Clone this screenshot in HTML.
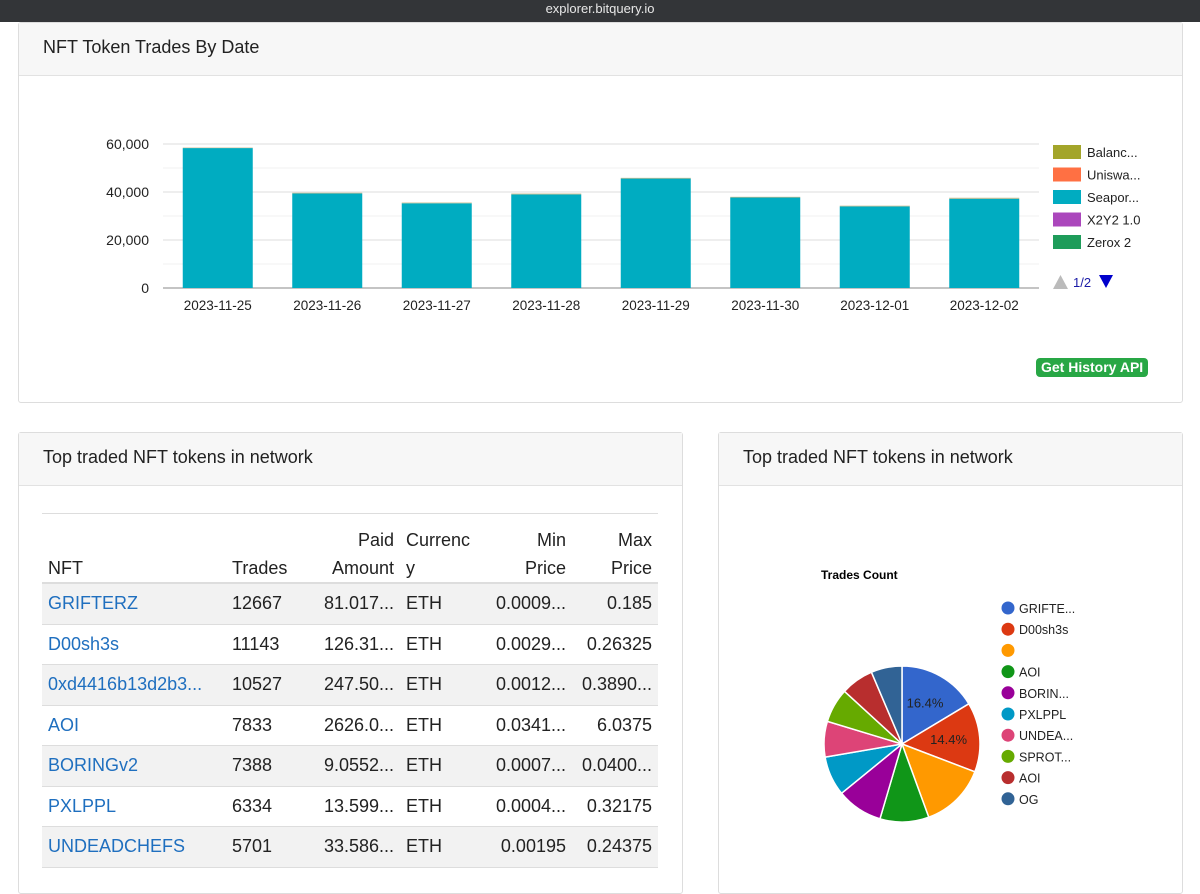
<!DOCTYPE html>
<html><head><meta charset="utf-8">
<style>
body{margin:0;width:1200px;height:877px;background:#fff;font-family:"Liberation Sans",sans-serif;position:relative;overflow:hidden}
.top{position:absolute;left:0;top:0;width:1200px;height:22px;background:#333538;color:#e8e8e8;font-size:13px;text-align:center;line-height:18px}
.card{position:absolute;border:1px solid #ddd;border-radius:3px;background:#fff}
.card .hd{height:52px;background:#f7f7f7;border-bottom:1px solid #e2e2e2;font-size:18px;color:#222;line-height:48px;padding-left:24px}
table{position:absolute;left:23px;top:80px;width:616px;border-collapse:collapse;font-size:18px;color:#222;table-layout:fixed}
th{font-weight:normal;padding:0 6px;vertical-align:bottom;line-height:28px;height:68px;border-top:1px solid #ddd;border-bottom:2px solid #ddd}
td{height:39.5px;padding:0 6px;border-bottom:1px solid #ddd;white-space:nowrap;overflow:hidden}
tr.s td{background:#f2f2f2}
td.r,th.r{text-align:right}
a{color:#1f6fbf;text-decoration:none}
</style></head><body>
<div class="top">explorer.bitquery.io</div>

<div class="card" style="left:18px;top:22px;width:1163px;height:379px">
<div class="hd">NFT Token Trades By Date</div>
<svg id="bar" width="1163" height="326" style="position:absolute;left:0;top:53px"></svg>
<div style="position:absolute;left:1017px;top:335px;background:#28a745;color:#fff;font-size:14px;font-weight:bold;border-radius:4px;padding:1px 5px;line-height:17px">Get History API</div>
</div>

<div class="card" style="left:18px;top:432px;width:663px;height:460px">
<div class="hd">Top traded NFT tokens in network</div>
<table>
<colgroup><col style="width:184px"><col style="width:90px"><col style="width:84px"><col style="width:82px"><col style="width:90px"><col style="width:86px"></colgroup>
<tr><th style="text-align:left">NFT</th><th style="text-align:left">Trades</th><th class="r">Paid<br>Amount</th><th style="text-align:left">Currenc<br>y</th><th class="r">Min<br>Price</th><th class="r">Max<br>Price</th></tr>
<tr class="s"><td><a>GRIFTERZ</a></td><td>12667</td><td class="r">81.017...</td><td>ETH</td><td class="r">0.0009...</td><td class="r">0.185</td></tr>
<tr><td><a>D00sh3s</a></td><td>11143</td><td class="r">126.31...</td><td>ETH</td><td class="r">0.0029...</td><td class="r">0.26325</td></tr>
<tr class="s"><td><a>0xd4416b13d2b3...</a></td><td>10527</td><td class="r">247.50...</td><td>ETH</td><td class="r">0.0012...</td><td class="r">0.3890...</td></tr>
<tr><td><a>AOI</a></td><td>7833</td><td class="r">2626.0...</td><td>ETH</td><td class="r">0.0341...</td><td class="r">6.0375</td></tr>
<tr class="s"><td><a>BORINGv2</a></td><td>7388</td><td class="r">9.0552...</td><td>ETH</td><td class="r">0.0007...</td><td class="r">0.0400...</td></tr>
<tr><td><a>PXLPPL</a></td><td>6334</td><td class="r">13.599...</td><td>ETH</td><td class="r">0.0004...</td><td class="r">0.32175</td></tr>
<tr class="s"><td><a>UNDEADCHEFS</a></td><td>5701</td><td class="r">33.586...</td><td>ETH</td><td class="r">0.00195</td><td class="r">0.24375</td></tr>
</table>
</div>

<div class="card" style="left:718px;top:432px;width:463px;height:460px">
<div class="hd">Top traded NFT tokens in network</div>
<svg id="pie" width="463" height="400" style="position:absolute;left:0;top:53px"></svg>
</div>

<script>
const NS="http://www.w3.org/2000/svg";
function mk(p,t,a){const e=document.createElementNS(NS,t);for(const k in a)e.setAttribute(k,a[k]);p.appendChild(e);return e;}
// Bar chart data
const dates=["2023-11-25","2023-11-26","2023-11-27","2023-11-28","2023-11-29","2023-11-30","2023-12-01","2023-12-02"];
const seaport=[58300,39400,35300,39000,45600,37700,34000,37200];
const balancer=[200,300,300,350,300,300,300,400];
const yTicks=[0,20000,40000,60000];
const legendNames=["Balanc...","Uniswa...","Seapor...","X2Y2 1.0","Zerox 2"];
const legendColors=["#a3a52a","#ff7043","#00acc1","#ab47bc","#1e9c5a"];
const bar=document.getElementById('bar');
const x0=144,x1=1020,yb=212,yt=68;
const y=v=>yb-(v/60000)*(yb-yt);
const step=(x1-x0)/dates.length;
for(let v=0;v<=60000;v+=10000){
 const l=mk(bar,'line',{x1:x0,x2:x1,y1:y(v),y2:y(v),stroke:v===0?'#888':(v%20000?'#f0f0f0':'#ddd'),'stroke-width':1});
 
 
}
yTicks.forEach(v=>{const t=mk(bar,'text',{x:130,y:y(v)+5,'text-anchor':'end','font-size':14,fill:'#222'});t.textContent=v.toLocaleString('en-US');
 
 });
dates.forEach((d,i)=>{
 const cx=x0+step*(i+0.5),w=70;
 const r=mk(bar,'rect',{x:cx-w/2,y:y(seaport[i]),width:w,height:yb-y(seaport[i]),fill:'#00acc1'});
 
 
 const r2=mk(bar,'rect',{x:cx-w/2,y:y(seaport[i]+balancer[i]),width:w,height:y(seaport[i])-y(seaport[i]+balancer[i]),fill:'#c9b98a'});
 
 
 const t=mk(bar,'text',{x:cx,y:234,'text-anchor':'middle','font-size':13.5,fill:'#222'});t.textContent=d;
 
 
});
legendNames.forEach((n,i)=>{
 const g=mk(bar,'g',{});
 
 
 mk(g,'rect',{x:1034,y:69+i*22.5,width:28,height:14,fill:legendColors[i]});
 const t=mk(g,'text',{x:1068,y:81+i*22.5,'font-size':13,fill:'#222'});t.textContent=n;
});
const up=mk(bar,'path',{d:'M1034 213 L1049 213 L1041.5 199 Z',fill:'#bbb'});


const pg=mk(bar,'text',{x:1054,y:211,'font-size':13,fill:'#1a1aa6'});pg.textContent='1/2';


const dn=mk(bar,'path',{d:'M1080 199 L1094 199 L1087 212 Z',fill:'#0000cc'});



// Pie chart data
const pieLabels=["GRIFTE...","D00sh3s","","AOI","BORIN...","PXLPPL","UNDEA...","SPROT...","AOI","OG"];
const pieValues=[12667,11143,10527,7833,7388,6334,5701,5500,5250,4950];
const pieColors=["#3366cc","#dc3912","#ff9900","#109618","#990099","#0099c6","#dd4477","#66aa00","#b82e2e","#316395"];
const pie=document.getElementById('pie');
const tt=mk(pie,'text',{x:102,y:93,'font-size':12,'font-weight':'bold',fill:'#000'});tt.textContent='Trades Count';


const cx=183,cy=258,R=78;
const tot=pieValues.reduce((a,b)=>a+b,0);
let a=0;
pieValues.forEach((v,i)=>{
 const a2=a+v/tot*2*Math.PI;
 const p=(t)=>[cx+R*Math.sin(t),cy-R*Math.cos(t)];
 const [sx,sy]=p(a),[ex,ey]=p(a2);
 const s=mk(pie,'path',{d:`M${cx} ${cy} L${sx} ${sy} A${R} ${R} 0 ${a2-a>Math.PI?1:0} 1 ${ex} ${ey} Z`,fill:pieColors[i],stroke:'#fff','stroke-width':1.5});
 
 
 const pct=v/tot*100;
 if(pct>14){const m=(a+a2)/2;const t=mk(pie,'text',{x:cx+R*0.6*Math.sin(m),y:cy-R*0.6*Math.cos(m)+4,'text-anchor':'middle','font-size':13,fill:'#222'});t.textContent=pct.toFixed(1)+'%';
  
  }
 a=a2;
});
pieLabels.forEach((n,i)=>{
 const g=mk(pie,'g',{});
 
 
 mk(g,'circle',{cx:289,cy:122+i*21.2,r:6.5,fill:pieColors[i]});
 const t=mk(g,'text',{x:300,y:127+i*21.2,'font-size':12.5,fill:'#222'});t.textContent=n;
});
</script>
</body></html>
